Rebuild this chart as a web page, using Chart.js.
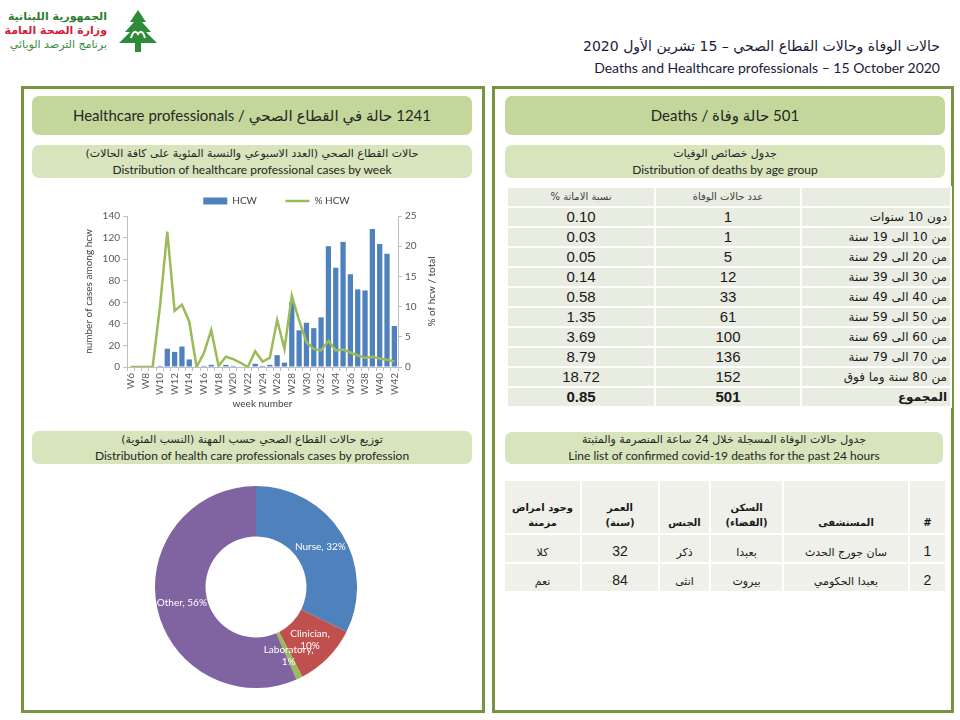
<!DOCTYPE html>
<html>
<head>
<meta charset="utf-8">
<script src="https://cdn.jsdelivr.net/npm/chart.js@4.4.0/dist/chart.umd.min.js"></script>
<style>
body{margin:0;width:960px;height:720px;background:#fff;position:relative;overflow:hidden;font-family:Lato,"DejaVu Sans",sans-serif;color:#262626}
.panel{position:absolute;border:3px solid #77933C;box-sizing:border-box}
.bar1{position:absolute;background:#C4D79B;border-radius:7px;display:flex;align-items:center;justify-content:center;font-size:15px;color:#262626}
.bar2{position:absolute;background:#D8E4BC;border-radius:7px;display:flex;flex-direction:column;justify-content:center;text-align:center;font-size:12px;line-height:16px;color:#262626}
.ar{direction:rtl;font-family:"DejaVu Sans",sans-serif;font-size:11px}
table{border-collapse:collapse;table-layout:fixed;position:absolute}
#ageTable td{background:#E9ECE0;border:2px solid #fff;height:18px;padding:0 3px;text-align:center;font-family:"Liberation Sans",Arial,sans-serif;font-size:15px;line-height:16px;color:#1a1a1a}
#ageTable td.lab{text-align:right;font-family:"DejaVu Sans",sans-serif;font-size:12px}
#ageTable tr.hd td{font-family:"DejaVu Sans",sans-serif;font-size:10px;color:#404040}
#ageTable tr.tot td{font-weight:bold}
#lineTable td{background:#EEF0E9;border:2px solid #fff;text-align:center;vertical-align:bottom;padding:0 3px 3px 3px;font-family:"DejaVu Sans",sans-serif;font-size:11px;color:#1a1a1a}
#lineTable tr.hd td{font-weight:bold;height:49px;font-size:10px;line-height:15px}
#lineTable tr.rw td{height:24px}
#lineTable td.num{font-family:"Liberation Sans",Arial,sans-serif;font-size:14px}
</style>
</head>
<body>

<!-- logo -->
<svg style="position:absolute;left:116px;top:8px" width="44" height="46" viewBox="0 0 44 46">
  <polygon points="22,2 30,14 26,14 35,24 30,24 41,35 3,35 14,24 9,24 18,14 14,14" fill="#2E8B3A"/>
  <rect x="19" y="33" width="6" height="11" fill="#2E8B3A"/>
  <path d="M15 30 Q18 20 22 26 Q26 20 29 30" stroke="#fff" stroke-width="2" fill="none"/>
</svg>
<div class="ar" style="position:absolute;right:853px;top:10px;text-align:right;font-size:11px;font-weight:bold;line-height:14px">
  <div style="color:#2E7D32">الجمهورية اللبنانية</div>
  <div style="color:#D6203A">وزارة الصحة العامة</div>
  <div style="color:#3D8B3D;font-weight:normal">برنامج الترصد الوبائي</div>
</div>

<!-- header -->
<div class="ar" style="position:absolute;right:20px;top:38px;font-size:14px;color:#1a1a3a">حالات الوفاة وحالات القطاع الصحي – 15 تشرين الأول 2020</div>
<div style="position:absolute;right:20px;top:59px;font-size:14px;color:#1a1a3a">Deaths and Healthcare professionals – 15 October 2020</div>

<!-- left panel -->
<div class="panel" style="left:21px;top:86px;width:464px;height:627px"></div>
<div class="bar1" style="left:32px;top:96px;width:440px;height:39px"><span dir="rtl">1241 حالة في القطاع الصحي / Healthcare professionals</span></div>
<div class="bar2" style="left:32px;top:145px;width:440px;height:33px"><div class="ar">حالات القطاع الصحي (العدد الاسبوعي والنسبة المئوية على كافة الحالات)</div><div>Distribution of healthcare professional cases by week</div></div>
<div style="position:absolute;left:60px;top:189px;width:410px;height:225px"><canvas id="weekChart"></canvas></div>
<div class="bar2" style="left:32px;top:431px;width:440px;height:33px"><div class="ar">توزيع حالات القطاع الصحي حسب المهنة (النسب المئوية)</div><div>Distribution of health care professionals cases by profession</div></div>
<div style="position:absolute;left:155px;top:486px;width:202px;height:202px"><canvas id="profChart"></canvas></div>

<!-- right panel -->
<div class="panel" style="left:492px;top:86px;width:462px;height:627px"></div>
<div class="bar1" style="left:505px;top:96px;width:440px;height:39px"><span dir="rtl">501 حالة وفاة / Deaths</span></div>
<div class="bar2" style="left:505px;top:145px;width:440px;height:33px"><div class="ar">جدول خصائص الوفيات</div><div>Distribution of deaths by age group</div></div>
<table id="ageTable" dir="rtl" style="left:506px;top:186px;width:444px"></table>
<div class="bar2" style="left:505px;top:432px;width:438px;height:32px"><div class="ar">جدول حالات الوفاة المسجلة خلال 24 ساعة المنصرمة والمثبتة</div><div>Line list of confirmed covid-19 deaths for the past 24 hours</div></div>
<table id="lineTable" dir="rtl" style="left:503px;top:479px;width:442px"></table>

<script>
// weekly healthcare worker cases
const weeks = ['W6','W7','W8','W9','W10','W11','W12','W13','W14','W15','W16','W17','W18','W19','W20','W21','W22','W23','W24',
  'W25','W26','W27','W28','W29','W30','W31','W32','W33','W34','W35','W36','W37','W38','W39','W40','W41','W42'];
const hcwCases = [0,0,0,0,1,17,14,19,7,0,1,2,0,2,1,0,0,3,1,2,11,4,60,34,41,36,46,112,92,116,86,72,71,128,114,105,38];
const hcwPct = [0,0,0,0,10,22.4,9.3,10.3,7.5,0,2.3,6.1,0.2,1.7,1.3,0.7,0,2.6,0.9,1.5,7.8,3,11.8,7.7,4.1,3,2.75,4.3,2.75,2.9,2.4,1.9,1.5,1.7,1.4,1.2,0.9];
const casesTicks = [0,140,20];
const pctTicks = [0,25,5];
const leftTitle = 'number of cases among hcw';
const rightTitle = '% of hcw / total';
const xTitle = 'week number';

// profession split
const profLabels = ['Nurse','Clinician','Laboratory','Other'];
const profPct = [32,10,1,56];
const profColors = ['#4F81BD','#C0504D','#9BBB59','#8064A2'];

// deaths by age group
const ageGroups = ['دون 10 سنوات','من 10 الى 19 سنة','من 20 الى 29 سنة','من 30 الى 39 سنة','من 40 الى 49 سنة',
  'من 50 الى 59 سنة','من 60 الى 69 سنة','من 70 الى 79 سنة','من 80 سنة وما فوق','المجموع'];
const ageDeaths = [1,1,5,12,33,61,100,136,152,501];
const ageCfr = ['0.10','0.03','0.05','0.14','0.58','1.35','3.69','8.79','18.72','0.85'];
const ageHeader = ['','عدد حالات الوفاة','نسبة الاماتة %'];

// line list, past 24h
const listHeader = ['#','المستشفى','السكن<br>(القضاء)','الجنس','العمر<br>(سنة)','وجود امراض<br>مزمنة'];
const listNo = [1,2];
const listHospital = ['سان جورج الحدث','بعبدا الحكومي'];
const listDistrict = ['بعبدا','بيروت'];
const listSex = ['ذكر','انثى'];
const listAge = [32,84];
const listChronic = ['كلا','نعم'];

// ---- tables
let h = '<colgroup><col style="width:150px"><col style="width:146px"><col style="width:148px"></colgroup>';
h += '<tr class="hd">' + ageHeader.map(t => '<td>' + t + '</td>').join('') + '</tr>';
ageGroups.forEach((g, i) => {
  h += '<tr' + (i === ageGroups.length - 1 ? ' class="tot"' : '') + '><td class="lab">' + g + '</td><td>' +
    ageDeaths[i] + '</td><td>' + ageCfr[i] + '</td></tr>';
});
document.getElementById('ageTable').innerHTML = h;

let l = '<colgroup><col style="width:37px"><col style="width:126px"><col style="width:73px"><col style="width:51px"><col style="width:78px"><col style="width:77px"></colgroup>';
l += '<tr class="hd">' + listHeader.map(t => '<td>' + t + '</td>').join('') + '</tr>';
listNo.forEach((n, i) => {
  l += '<tr class="rw"><td class="num">' + n + '</td><td>' + listHospital[i] + '</td><td>' + listDistrict[i] +
    '</td><td>' + listSex[i] + '</td><td class="num">' + listAge[i] + '</td><td>' + listChronic[i] + '</td></tr>';
});
document.getElementById('lineTable').innerHTML = l;

// ---- weekly chart
Chart.defaults.font.family = 'Lato, "DejaVu Sans", sans-serif';
Chart.defaults.animation = false;

const rightTitlePlugin = {
  id: 'rightTitlePlugin',
  afterDraw(chart) {
    const s = chart.scales.y1, ctx = chart.ctx;
    ctx.save();
    ctx.translate(s.left + 34, (s.top + s.bottom) / 2);
    ctx.rotate(-Math.PI / 2);
    ctx.font = '10px Lato, sans-serif';
    ctx.fillStyle = '#404040';
    ctx.textAlign = 'center';
    ctx.textBaseline = 'middle';
    ctx.fillText(rightTitle, 0, 0);
    ctx.restore();
  }
};

new Chart(document.getElementById('weekChart'), {
  type: 'bar',
  data: {
    labels: weeks,
    datasets: [{
      label: 'HCW',
      data: hcwCases,
      backgroundColor: '#4F81BD',
      barPercentage: 0.72,
      categoryPercentage: 1,
      yAxisID: 'y',
      order: 1,
      pointStyle: 'rect'
    }, {
      type: 'line',
      label: '% HCW',
      data: hcwPct,
      borderColor: '#9BBB59',
      backgroundColor: '#9BBB59',
      borderWidth: 2.5,
      pointRadius: 0,
      tension: 0,
      yAxisID: 'y1',
      order: 0,
      pointStyle: 'line'
    }]
  },
  options: {
    responsive: true,
    maintainAspectRatio: false,
    layout: { padding: { top: 6, left: 23, right: 0, bottom: 0 } },
    plugins: {
      tooltip: { enabled: false },
      legend: {
        position: 'top',
        labels: {
          usePointStyle: true,
          pointStyleWidth: 24,
          boxHeight: 7,
          padding: 1,
          color: '#404040',
          font: { size: 10 },
          sort: (a, b) => a.datasetIndex - b.datasetIndex,
          generateLabels(chart) {
            const items = Chart.defaults.plugins.legend.labels.generateLabels(chart);
            items.forEach(it => { if (it.datasetIndex === 0) it.text += '\u2003\u2003\u2003\u2002'; });
            return items;
          }
        }
      }
    },
    scales: {
      x: {
        grid: { display: true, drawOnChartArea: false, tickLength: 4, color: '#bfbfbf' },
        border: { color: '#bfbfbf' },
        ticks: {
          autoSkip: false, maxRotation: 90, minRotation: 90, padding: 2,
          color: '#595959', font: { size: 10 },
          callback: (v, i) => (i % 2 === 0 ? weeks[i] : '')
        },
        title: { display: true, text: xTitle, color: '#404040', font: { size: 10 }, padding: { top: 2, bottom: 4 } },
        afterFit: s => { s.height = 47; }
      },
      y: {
        position: 'left',
        min: casesTicks[0], max: casesTicks[1],
        ticks: { stepSize: casesTicks[2], color: '#595959', font: { size: 10 }, padding: 3 },
        grid: { drawOnChartArea: false, tickLength: 4, color: '#bfbfbf' },
        border: { color: '#bfbfbf' },
        title: { display: true, text: leftTitle, color: '#404040', font: { size: 10 }, padding: 0 },
        afterFit: s => { s.width = 44; }
      },
      y1: {
        position: 'right',
        min: pctTicks[0], max: pctTicks[1],
        ticks: { stepSize: pctTicks[2], color: '#595959', font: { size: 10 }, padding: 3 },
        grid: { drawOnChartArea: false, tickLength: 4, color: '#bfbfbf' },
        border: { color: '#bfbfbf' },
        afterFit: s => { s.width = 72; }
      }
    }
  },
  plugins: [rightTitlePlugin]
});

// ---- profession donut
const sliceLabels = {
  id: 'sliceLabels',
  afterDatasetsDraw(chart) {
    const ctx = chart.ctx;
    const meta = chart.getDatasetMeta(0);
    ctx.save();
    ctx.font = '10px Lato, sans-serif';
    ctx.fillStyle = '#ffffff';
    ctx.textAlign = 'center';
    ctx.textBaseline = 'middle';
    meta.data.forEach((arc, i) => {
      const p = arc.tooltipPosition();
      if (profPct[i] < 20) {
        ctx.fillText(profLabels[i] + ',', p.x, p.y - 6);
        ctx.fillText(profPct[i] + '%', p.x, p.y + 6);
      } else {
        ctx.fillText(profLabels[i] + ', ' + profPct[i] + '%', p.x, p.y);
      }
    });
    ctx.restore();
  }
};

new Chart(document.getElementById('profChart'), {
  type: 'doughnut',
  data: {
    labels: profLabels,
    datasets: [{ data: profPct, backgroundColor: profColors, borderWidth: 0 }]
  },
  options: {
    responsive: true,
    maintainAspectRatio: false,
    cutout: '50%',
    plugins: { legend: { display: false }, tooltip: { enabled: false } }
  },
  plugins: [sliceLabels]
});
</script>
</body>
</html>
